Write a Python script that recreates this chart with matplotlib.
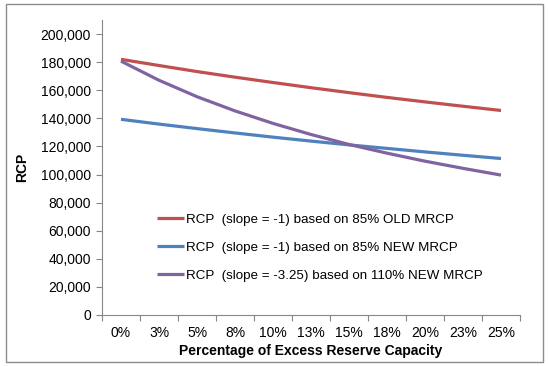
import matplotlib
matplotlib.use("Agg")
import matplotlib.pyplot as plt
from matplotlib import ticker
from matplotlib.patches import Rectangle

# categories on the x axis (excess reserve capacity)
categories = ['0%', '3%', '5%', '8%', '10%', '13%', '15%', '18%', '20%', '23%', '25%']

# RCP values
rcp_old_85 = [182000, 177600, 173300, 169300, 165500, 161800, 158300, 154900, 151700, 148600, 145600]
rcp_new_85 = [139300, 135900, 132700, 129600, 126600, 123800, 121100, 118600, 116100, 113700, 111400]
rcp_new_110 = [180700, 167100, 155400, 145300, 136400, 128500, 121400, 115200, 109500, 104400, 99600]

labels = ['RCP  (slope = -1) based on 85% OLD MRCP',
          'RCP  (slope = -1) based on 85% NEW MRCP',
          'RCP  (slope = -3.25) based on 110% NEW MRCP']
colors = ['#C0504D', '#4F81BD', '#8064A2']

plt.rcParams['font.family'] = ['Liberation Sans', 'DejaVu Sans']
plt.rcParams['font.size'] = 10

fig = plt.figure(figsize=(5.48, 3.66), dpi=100)
# chart frame around the whole picture
fig.patches.append(Rectangle((6 / 548, 4 / 366), 537 / 548, 358 / 366, transform=fig.transFigure,
                             fill=False, edgecolor='#8c8c8c', linewidth=1.0))

ax = fig.add_axes([102 / 548, 1 - 315 / 366, 418 / 548, 295 / 366])

x = list(range(len(categories)))
for vals, lab, col in zip([rcp_old_85, rcp_new_85, rcp_new_110], labels, colors):
    ax.plot(x, vals, color=col, linewidth=2.3, label=lab, solid_capstyle='butt')

ax.set_xlim(-0.5, len(categories) - 0.5)
ax.set_ylim(0, 210000)
ax.set_yticks(range(0, 200001, 20000))
ax.yaxis.set_major_formatter(ticker.FuncFormatter(lambda v, p: f'{int(v):,}'))

# category boundaries get the tick marks, labels sit in the middle
ax.set_xticks([i - 0.5 for i in range(len(categories) + 1)])
ax.set_xticklabels([])
ax.set_xticks(x, minor=True)
ax.set_xticklabels(categories, minor=True)
ax.tick_params(axis='x', which='minor', length=0, pad=8)
ax.tick_params(axis='x', which='major', length=4, color='#868686')
ax.tick_params(axis='y', length=4, color='#868686', pad=4)

for s in ['top', 'right']:
    ax.spines[s].set_visible(False)
for s in ['left', 'bottom']:
    ax.spines[s].set_color('#868686')

ax.set_xlabel('Percentage of Excess Reserve Capacity', fontweight='bold', labelpad=3)
ax.set_ylabel('RCP', fontweight='bold', labelpad=8)

ax.legend(loc='upper left', bbox_to_anchor=(0.1316, 0.345), frameon=False, borderpad=0,
          borderaxespad=0, handlelength=2.05, handletextpad=0.15, labelspacing=1.18,
          fontsize=9.6)

fig.savefig('out.png', dpi=100)
